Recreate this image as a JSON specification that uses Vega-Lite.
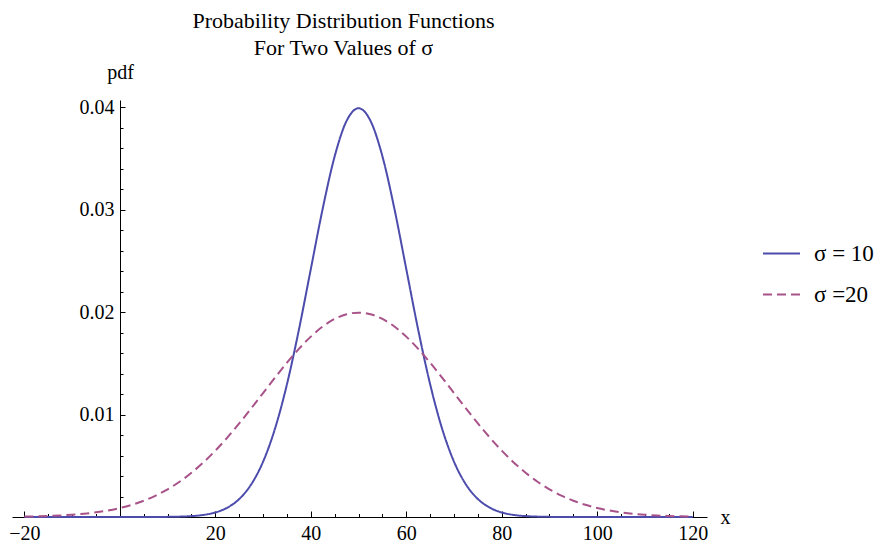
{
  "$schema": "https://vega.github.io/schema/vega-lite/v6.json",
  "autosize": {"type": "none"},
  "padding": {"left": 12, "top": 100, "right": 184, "bottom": 29},
  "width": 695,
  "height": 417,
  "background": "white",
  "config": {
    "view": {"stroke": null},
    "axis": {"grid": false, "domainColor": "black", "tickColor": "black", "labelColor": "black", "titleColor": "black", "labelFont": "Liberation Serif", "titleFont": "Liberation Serif", "titleFontWeight": "normal"}
  },
  "title": {
    "text": ["Probability Distribution Functions", "For Two Values of σ"],
    "font": "Liberation Serif",
    "fontSize": 22,
    "fontWeight": "normal",
    "color": "black",
    "anchor": "middle",
    "dx": -16,
    "lineHeight": 27,
    "baseline": "top",
    "offset": 2
  },
  "data": {
    "values": [
      {"x": -20, "pdf": 0, "series": "σ = 10"},
      {"x": -17.5, "pdf": 0, "series": "σ = 10"},
      {"x": -15, "pdf": 0, "series": "σ = 10"},
      {"x": -12.5, "pdf": 0, "series": "σ = 10"},
      {"x": -10, "pdf": 0, "series": "σ = 10"},
      {"x": -7.5, "pdf": 0, "series": "σ = 10"},
      {"x": -5, "pdf": 0, "series": "σ = 10"},
      {"x": -2.5, "pdf": 0, "series": "σ = 10"},
      {"x": 0, "pdf": 0.0000001, "series": "σ = 10"},
      {"x": 2.5, "pdf": 0.0000005, "series": "σ = 10"},
      {"x": 5, "pdf": 0.0000016, "series": "σ = 10"},
      {"x": 7.5, "pdf": 0.0000047, "series": "σ = 10"},
      {"x": 10, "pdf": 0.0000134, "series": "σ = 10"},
      {"x": 12.5, "pdf": 0.0000353, "series": "σ = 10"},
      {"x": 15, "pdf": 0.0000873, "series": "σ = 10"},
      {"x": 17.5, "pdf": 0.000203, "series": "σ = 10"},
      {"x": 20, "pdf": 0.000443, "series": "σ = 10"},
      {"x": 22.5, "pdf": 0.000909, "series": "σ = 10"},
      {"x": 25, "pdf": 0.001753, "series": "σ = 10"},
      {"x": 27.5, "pdf": 0.003174, "series": "σ = 10"},
      {"x": 30, "pdf": 0.005399, "series": "σ = 10"},
      {"x": 32.5, "pdf": 0.008628, "series": "σ = 10"},
      {"x": 35, "pdf": 0.012952, "series": "σ = 10"},
      {"x": 37.5, "pdf": 0.018265, "series": "σ = 10"},
      {"x": 40, "pdf": 0.024197, "series": "σ = 10"},
      {"x": 42.5, "pdf": 0.030114, "series": "σ = 10"},
      {"x": 45, "pdf": 0.035207, "series": "σ = 10"},
      {"x": 47.5, "pdf": 0.038667, "series": "σ = 10"},
      {"x": 50, "pdf": 0.039894, "series": "σ = 10"},
      {"x": 52.5, "pdf": 0.038667, "series": "σ = 10"},
      {"x": 55, "pdf": 0.035207, "series": "σ = 10"},
      {"x": 57.5, "pdf": 0.030114, "series": "σ = 10"},
      {"x": 60, "pdf": 0.024197, "series": "σ = 10"},
      {"x": 62.5, "pdf": 0.018265, "series": "σ = 10"},
      {"x": 65, "pdf": 0.012952, "series": "σ = 10"},
      {"x": 67.5, "pdf": 0.008628, "series": "σ = 10"},
      {"x": 70, "pdf": 0.005399, "series": "σ = 10"},
      {"x": 72.5, "pdf": 0.003174, "series": "σ = 10"},
      {"x": 75, "pdf": 0.001753, "series": "σ = 10"},
      {"x": 77.5, "pdf": 0.000909, "series": "σ = 10"},
      {"x": 80, "pdf": 0.000443, "series": "σ = 10"},
      {"x": 82.5, "pdf": 0.000203, "series": "σ = 10"},
      {"x": 85, "pdf": 0.0000873, "series": "σ = 10"},
      {"x": 87.5, "pdf": 0.0000353, "series": "σ = 10"},
      {"x": 90, "pdf": 0.0000134, "series": "σ = 10"},
      {"x": 92.5, "pdf": 0.0000047, "series": "σ = 10"},
      {"x": 95, "pdf": 0.0000016, "series": "σ = 10"},
      {"x": 97.5, "pdf": 0.0000005, "series": "σ = 10"},
      {"x": 100, "pdf": 0.0000001, "series": "σ = 10"},
      {"x": 102.5, "pdf": 0, "series": "σ = 10"},
      {"x": 105, "pdf": 0, "series": "σ = 10"},
      {"x": 107.5, "pdf": 0, "series": "σ = 10"},
      {"x": 110, "pdf": 0, "series": "σ = 10"},
      {"x": 112.5, "pdf": 0, "series": "σ = 10"},
      {"x": 115, "pdf": 0, "series": "σ = 10"},
      {"x": 117.5, "pdf": 0, "series": "σ = 10"},
      {"x": 120, "pdf": 0, "series": "σ = 10"},
      {"x": -20, "pdf": 0.000044, "series": "σ =20"},
      {"x": -17.5, "pdf": 0.000067, "series": "σ =20"},
      {"x": -15, "pdf": 0.000101, "series": "σ =20"},
      {"x": -12.5, "pdf": 0.000151, "series": "σ =20"},
      {"x": -10, "pdf": 0.000222, "series": "σ =20"},
      {"x": -7.5, "pdf": 0.00032, "series": "σ =20"},
      {"x": -5, "pdf": 0.000455, "series": "σ =20"},
      {"x": -2.5, "pdf": 0.000636, "series": "σ =20"},
      {"x": 0, "pdf": 0.000876, "series": "σ =20"},
      {"x": 2.5, "pdf": 0.001189, "series": "σ =20"},
      {"x": 5, "pdf": 0.001587, "series": "σ =20"},
      {"x": 7.5, "pdf": 0.002086, "series": "σ =20"},
      {"x": 10, "pdf": 0.0027, "series": "σ =20"},
      {"x": 12.5, "pdf": 0.003439, "series": "σ =20"},
      {"x": 15, "pdf": 0.004314, "series": "σ =20"},
      {"x": 17.5, "pdf": 0.005327, "series": "σ =20"},
      {"x": 20, "pdf": 0.006476, "series": "σ =20"},
      {"x": 22.5, "pdf": 0.007751, "series": "σ =20"},
      {"x": 25, "pdf": 0.009132, "series": "σ =20"},
      {"x": 27.5, "pdf": 0.010594, "series": "σ =20"},
      {"x": 30, "pdf": 0.012099, "series": "σ =20"},
      {"x": 32.5, "pdf": 0.013603, "series": "σ =20"},
      {"x": 35, "pdf": 0.015057, "series": "σ =20"},
      {"x": 37.5, "pdf": 0.016408, "series": "σ =20"},
      {"x": 40, "pdf": 0.017603, "series": "σ =20"},
      {"x": 42.5, "pdf": 0.018593, "series": "σ =20"},
      {"x": 45, "pdf": 0.019333, "series": "σ =20"},
      {"x": 47.5, "pdf": 0.019792, "series": "σ =20"},
      {"x": 50, "pdf": 0.019947, "series": "σ =20"},
      {"x": 52.5, "pdf": 0.019792, "series": "σ =20"},
      {"x": 55, "pdf": 0.019333, "series": "σ =20"},
      {"x": 57.5, "pdf": 0.018593, "series": "σ =20"},
      {"x": 60, "pdf": 0.017603, "series": "σ =20"},
      {"x": 62.5, "pdf": 0.016408, "series": "σ =20"},
      {"x": 65, "pdf": 0.015057, "series": "σ =20"},
      {"x": 67.5, "pdf": 0.013603, "series": "σ =20"},
      {"x": 70, "pdf": 0.012099, "series": "σ =20"},
      {"x": 72.5, "pdf": 0.010594, "series": "σ =20"},
      {"x": 75, "pdf": 0.009132, "series": "σ =20"},
      {"x": 77.5, "pdf": 0.007751, "series": "σ =20"},
      {"x": 80, "pdf": 0.006476, "series": "σ =20"},
      {"x": 82.5, "pdf": 0.005327, "series": "σ =20"},
      {"x": 85, "pdf": 0.004314, "series": "σ =20"},
      {"x": 87.5, "pdf": 0.003439, "series": "σ =20"},
      {"x": 90, "pdf": 0.0027, "series": "σ =20"},
      {"x": 92.5, "pdf": 0.002086, "series": "σ =20"},
      {"x": 95, "pdf": 0.001587, "series": "σ =20"},
      {"x": 97.5, "pdf": 0.001189, "series": "σ =20"},
      {"x": 100, "pdf": 0.000876, "series": "σ =20"},
      {"x": 102.5, "pdf": 0.000636, "series": "σ =20"},
      {"x": 105, "pdf": 0.000455, "series": "σ =20"},
      {"x": 107.5, "pdf": 0.00032, "series": "σ =20"},
      {"x": 110, "pdf": 0.000222, "series": "σ =20"},
      {"x": 112.5, "pdf": 0.000151, "series": "σ =20"},
      {"x": 115, "pdf": 0.000101, "series": "σ =20"},
      {"x": 117.5, "pdf": 0.000067, "series": "σ =20"},
      {"x": 120, "pdf": 0.000044, "series": "σ =20"}
    ]
  },
  "resolve": {"axis": {"x": "independent", "y": "independent"}},
  "layer": [
    {
      "mark": {"type": "point", "opacity": 0},
      "encoding": {
        "x": {"field": "x", "type": "quantitative", "scale": {"domain": [-22.6, 123], "nice": false, "zero": false},
          "axis": {"orient": "bottom", "values": [-15, -10, -5, 5, 10, 15, 25, 30, 35, 45, 50, 55, 65, 70, 75, 85, 90, 95, 105, 110, 115], "labels": false, "domain": false, "tickSize": -3.5, "title": null}},
        "y": {"field": "pdf", "type": "quantitative", "scale": {"domain": [0, 0.0407], "nice": false},
          "axis": {"orient": "left", "offset": -108, "values": [0.002, 0.004, 0.006, 0.008, 0.012, 0.014, 0.016, 0.018, 0.022, 0.024, 0.026, 0.028, 0.032, 0.034, 0.036, 0.038], "labels": false, "domain": false, "tickSize": -3, "title": null}}
      }
    },
    {
      "mark": {"type": "line", "interpolate": "monotone", "strokeWidth": 2},
      "encoding": {
        "x": {"field": "x", "type": "quantitative", "scale": {"domain": [-22.6, 123], "nice": false, "zero": false},
          "axis": {"orient": "bottom", "values": [-20, 20, 40, 60, 80, 100, 120], "tickSize": -6, "labelPadding": 12, "labelFontSize": 20, "labelFlush": false, "title": "x", "titleFontSize": 20, "titleX": 708, "titleY": 6, "titleAlign": "left", "titleBaseline": "alphabetic", "titleAnchor": null}},
        "y": {"field": "pdf", "type": "quantitative", "scale": {"domain": [0, 0.0407], "nice": false},
          "axis": {"orient": "left", "offset": -108, "values": [0.01, 0.02, 0.03, 0.04], "format": ".2f", "tickSize": -5, "labelPadding": 11, "labelFontSize": 20, "labelFlush": false, "title": "pdf", "titleFontSize": 20, "titleAngle": 0, "titleX": 0, "titleY": -22, "titleAlign": "center", "titleBaseline": "alphabetic", "titleAnchor": null}},
        "color": {"field": "series", "type": "nominal",
          "scale": {"domain": ["σ = 10", "σ =20"], "range": ["#4c4cac", "#a8528a"]},
          "legend": {"orient": "none", "legendX": 750, "legendY": 134, "title": null, "symbolType": "stroke", "symbolSize": 1369, "symbolStrokeWidth": 1.8, "labelFont": "Liberation Serif", "labelFontSize": 23, "labelColor": "black", "labelOffset": 13, "rowPadding": 9, "padding": 0}},
        "strokeDash": {"field": "series", "type": "nominal",
          "scale": {"domain": ["σ = 10", "σ =20"], "range": [[1, 0], [9, 5]]},
          "legend": {"orient": "none", "legendX": 750, "legendY": 134, "title": null, "symbolType": "stroke", "symbolSize": 1369, "symbolStrokeWidth": 1.8, "labelFont": "Liberation Serif", "labelFontSize": 23, "labelColor": "black", "labelOffset": 13, "rowPadding": 9, "padding": 0}}
      }
    }
  ]
}
